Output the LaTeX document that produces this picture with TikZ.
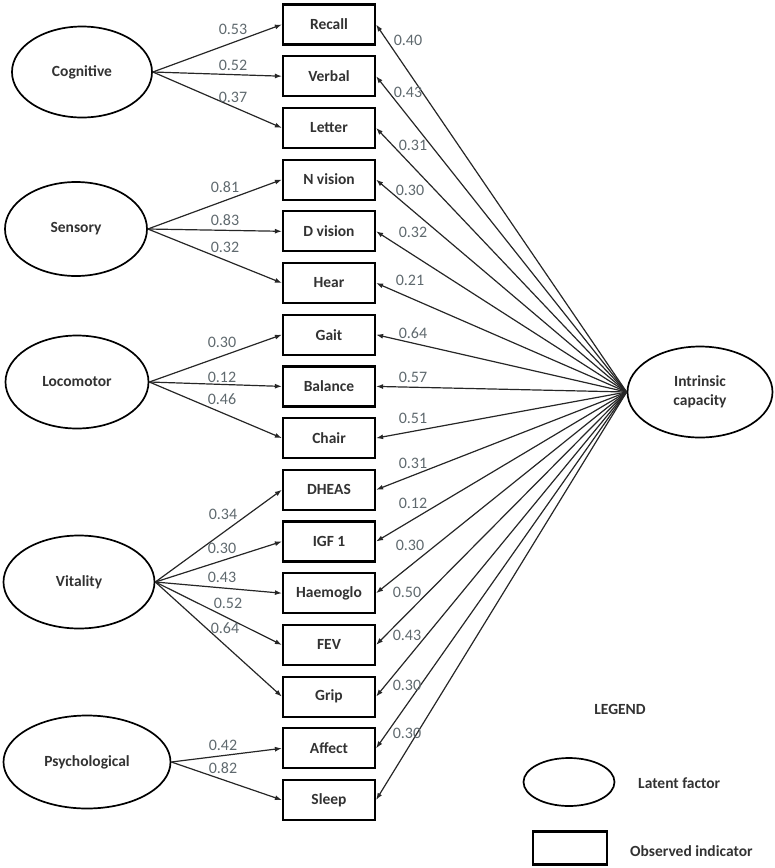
\documentclass[tikz,border=0pt]{standalone}
\usepackage{fontspec}
\setmainfont{Carlito}
\usetikzlibrary{shapes.geometric,arrows.meta}
\definecolor{numc}{RGB}{95,105,110}
\definecolor{txt}{RGB}{50,50,50}
\begin{document}
\begin{tikzpicture}[x=1pt,y=-1pt,
 obs/.style={draw, line width=2.2pt, minimum width=92pt, minimum height=40pt, inner sep=0pt, font=\fontsize{15.5}{17}\selectfont\bfseries, text=txt},
 lat/.style={draw, ellipse, line width=1.7pt, inner sep=0pt, font=\fontsize{15.5}{19}\selectfont\bfseries, text=txt, align=center},
 arr/.style={-{Latex[length=7pt,width=5pt]}, line width=1.2pt, draw=black!85},
 num/.style={font=\fontsize{16}{17}\selectfont, text=numc, inner sep=0pt},
 leg/.style={font=\fontsize{15.5}{17}\selectfont\bfseries, text=txt, inner sep=0pt}]
\useasboundingbox (0,0) rectangle (775,868);
% observed indicators
\node[obs] (recall) at (329,24.5) {Recall};
\node[obs] (verbal) at (329,76.2) {Verbal};
\node[obs] (letter) at (329,127.9) {Letter};
\node[obs] (nvision) at (329,179.6) {N vision};
\node[obs] (dvision) at (329,231.3) {D vision};
\node[obs] (hear) at (329,283) {Hear};
\node[obs] (gait) at (329,334.7) {Gait};
\node[obs] (balance) at (329,386.4) {Balance};
\node[obs] (chair) at (329,438.1) {Chair};
\node[obs] (dheas) at (329,489.8) {DHEAS};
\node[obs] (igf) at (329,541.5) {IGF 1};
\node[obs] (haem) at (329,593.2) {Haemoglo};
\node[obs] (fev) at (329,644.9) {FEV};
\node[obs] (grip) at (329,696.6) {Grip};
\node[obs] (affect) at (329,748.3) {Affect};
\node[obs] (sleep) at (329,800) {Sleep};
% latent factors
\node[lat, minimum width=140pt, minimum height=91pt] (cog) at (82,72) {Cognitive};
\node[lat, minimum width=142pt, minimum height=94pt] (sen) at (76,229) {Sensory};
\node[lat, minimum width=143pt, minimum height=93pt] (loc) at (77,382) {Locomotor};
\node[lat, minimum width=151pt, minimum height=93pt] (vit) at (79,582) {Vitality};
\node[lat, minimum width=167pt, minimum height=93pt] (psy) at (87,762) {Psychological};
\node[lat, minimum width=145pt, minimum height=91pt] (ic) at (700,392) {Intrinsic\\capacity};
% left arrows
\draw[arr] (cog.east) -- (recall.west);
\draw[arr] (cog.east) -- (verbal.west);
\draw[arr] (cog.east) -- (letter.west);
\draw[arr] (sen.east) -- (nvision.west);
\draw[arr] (sen.east) -- (dvision.west);
\draw[arr] (sen.east) -- (hear.west);
\draw[arr] (loc.east) -- (gait.west);
\draw[arr] (loc.east) -- (balance.west);
\draw[arr] (loc.east) -- (chair.west);
\draw[arr] (vit.east) -- (dheas.west);
\draw[arr] (vit.east) -- (igf.west);
\draw[arr] (vit.east) -- (haem.west);
\draw[arr] (vit.east) -- (fev.west);
\draw[arr] (vit.east) -- (grip.west);
\draw[arr] (psy.east) -- (affect.west);
\draw[arr] (psy.east) -- (sleep.west);
% right arrows
\foreach \b in {recall,verbal,letter,nvision,dvision,hear,gait,balance,chair,dheas,igf,haem,fev,grip,affect,sleep}
  \draw[arr] (ic.west) -- (\b.east);
% left labels
\node[num] (a1) at (233,29) {0.53};
\node[num] (a2) at (233,65) {0.52};
\node[num] (a3) at (233,97) {0.37};
\node[num] (a4) at (225,187) {0.81};
\node[num] (a5) at (225,220) {0.83};
\node[num] (a6) at (225,247) {0.32};
\node[num] (a7) at (222,342) {0.30};
\node[num] (a8) at (222,377) {0.12};
\node[num] (a9) at (222,399) {0.46};
\node[num] (a10) at (223,514) {0.34};
\node[num] (a11) at (222,548) {0.30};
\node[num] (a12) at (222,577) {0.43};
\node[num] (a13) at (228,603) {0.52};
\node[num] (a14) at (225,628) {0.64};
\node[num] (a15) at (223,745) {0.42};
\node[num] (a16) at (223,768) {0.82};
% right labels
\node[num] (b1) at (408,40) {0.40};
\node[num] (b2) at (408,92) {0.43};
\node[num] (b3) at (413,145) {0.31};
\node[num] (b4) at (410,190) {0.30};
\node[num] (b5) at (413,232) {0.32};
\node[num] (b6) at (410,280) {0.21};
\node[num] (b7) at (413,333) {0.64};
\node[num] (b8) at (413,377) {0.57};
\node[num] (b9) at (413,418) {0.51};
\node[num] (b10) at (413,463) {0.31};
\node[num] (b11) at (413,503) {0.12};
\node[num] (b12) at (410,545) {0.30};
\node[num] (b13) at (407,592) {0.50};
\node[num] (b14) at (407,635) {0.43};
\node[num] (b15) at (407,685) {0.30};
\node[num] (b16) at (407,733) {0.30};
% legend
\node[leg] (legt) at (620,709) {LEGEND};
\node[draw, ellipse, line width=1.7pt, minimum width=91pt, minimum height=48pt, inner sep=0pt] (lege) at (569,782) {};
\node[leg, anchor=west] (legel) at (638,783) {Latent factor};
\node[draw, line width=2.2pt, minimum width=74pt, minimum height=33pt, inner sep=0pt] (legr) at (570,848) {};
\node[leg, anchor=west] (legrl) at (630,851) {Observed indicator};
\end{tikzpicture}
\end{document}
